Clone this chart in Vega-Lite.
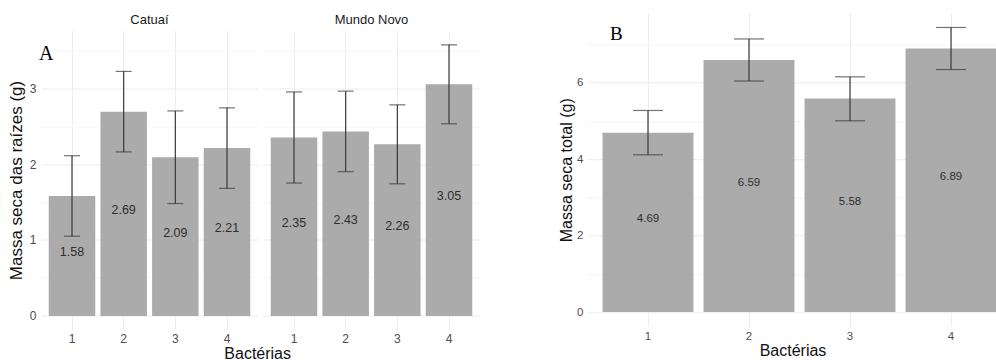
{
  "$schema": "https://vega.github.io/schema/vega-lite/v6.json",
  "padding": {"left": 7, "top": 13, "right": 0, "bottom": 0},
  "background": "white",
  "datasets": {
    "raizes": [
      {"cultivar": "Catuaí", "bacteria": "1", "media": 1.58, "lo": 1.05, "hi": 2.11},
      {"cultivar": "Catuaí", "bacteria": "2", "media": 2.69, "lo": 2.16, "hi": 3.22},
      {"cultivar": "Catuaí", "bacteria": "3", "media": 2.09, "lo": 1.48, "hi": 2.70},
      {"cultivar": "Catuaí", "bacteria": "4", "media": 2.21, "lo": 1.68, "hi": 2.74},
      {"cultivar": "Mundo Novo", "bacteria": "1", "media": 2.35, "lo": 1.75, "hi": 2.95},
      {"cultivar": "Mundo Novo", "bacteria": "2", "media": 2.43, "lo": 1.90, "hi": 2.96},
      {"cultivar": "Mundo Novo", "bacteria": "3", "media": 2.26, "lo": 1.74, "hi": 2.78},
      {"cultivar": "Mundo Novo", "bacteria": "4", "media": 3.05, "lo": 2.53, "hi": 3.57}
    ],
    "total": [
      {"bacteria": "1", "media": 4.69, "lo": 4.11, "hi": 5.27},
      {"bacteria": "2", "media": 6.59, "lo": 6.04, "hi": 7.14},
      {"bacteria": "3", "media": 5.58, "lo": 5.00, "hi": 6.15},
      {"bacteria": "4", "media": 6.89, "lo": 6.34, "hi": 7.44}
    ]
  },
  "config": {
    "view": {"stroke": null},
    "font": "Liberation Sans",
    "axis": {
      "ticks": false,
      "domain": false,
      "labelFont": "Liberation Sans",
      "labelColor": "#4d4d4d",
      "labelFontSize": 12,
      "titleFont": "Liberation Sans",
      "titleFontWeight": "normal",
      "titleColor": "#111111",
      "gridColor": "#ececec",
      "gridWidth": 1
    }
  },
  "spacing": 78,
  "center": true,
  "hconcat": [
    {
      "title": {"text": "Bactérias", "orient": "bottom", "anchor": "middle", "font": "Liberation Sans", "fontSize": 16, "fontWeight": "normal", "color": "#111111", "offset": 1, "dx": 14},
      "spacing": 5,
      "hconcat": [
        {
          "title": {"text": "Catuaí", "font": "Liberation Sans", "fontSize": 13, "fontWeight": "normal", "color": "#1a1a1a", "offset": 4},
          "width": 217,
          "height": 299,
          "data": {"name": "raizes"},
          "transform": [{"filter": "datum.cultivar === 'Catuaí'"}],
          "layer": [
            {
              "encoding": {
                "x": {"field": "bacteria", "type": "nominal", "scale": {"paddingInner": 0.1, "paddingOuter": 0.15}, "axis": {"title": null, "labelAngle": 0, "labelPadding": 4, "grid": true, "bandPosition": 0.5}}
              },
              "layer": [
                {"mark": {"type": "bar", "color": "#ababab"}, "encoding": {"y": {"field": "media", "type": "quantitative", "scale": {"domain": [-0.179, 3.759], "nice": false, "zero": false}, "axis": {"title": "Massa seca das raízes (g)", "titleFontSize": 17, "titlePadding": 4, "labelPadding": 5, "values": [0, 0.5, 1, 1.5, 2, 2.5, 3, 3.5], "labelExpr": "datum.value % 1 === 0 ? format(datum.value, 'd') : ''", "gridColor": {"condition": {"test": "datum.value % 1 === 0", "value": "#ececec"}, "value": "#f6f6f6"}}}}},
                {"mark": {"type": "rule", "color": "#383838", "strokeWidth": 1.2}, "encoding": {"y": {"field": "lo", "type": "quantitative"}, "y2": {"field": "hi"}}},
                {"mark": {"type": "tick", "color": "#383838", "size": 16, "thickness": 1.2}, "encoding": {"y": {"field": "lo", "type": "quantitative"}}},
                {"mark": {"type": "tick", "color": "#383838", "size": 16, "thickness": 1.2}, "encoding": {"y": {"field": "hi", "type": "quantitative"}}},
                {"data": {"values": [{"painel": "A"}]}, "mark": {"type": "text", "font": "Liberation Serif", "fontSize": 20, "align": "left", "baseline": "middle", "dx": -33, "color": "#000000"}, "encoding": {"x": {"datum": "1"}, "y": {"datum": 3.45}, "text": {"field": "painel"}}}
              ]
            },
            {
              "mark": {"type": "text", "fontSize": 12.5, "color": "#2e2e2e", "baseline": "middle", "dy": -4},
              "encoding": {
                "x": {"field": "bacteria", "type": "nominal"},
                "y": {"field": "media", "type": "quantitative", "scale": {"domain": [-0.358, 7.518], "nice": false, "zero": false}, "axis": null},
                "text": {"field": "media", "type": "quantitative", "format": ".2f"}
              }
            }
          ],
          "resolve": {"scale": {"y": "independent"}}
        },
        {
          "title": {"text": "Mundo Novo", "font": "Liberation Sans", "fontSize": 13, "fontWeight": "normal", "color": "#1a1a1a", "offset": 4},
          "width": 217,
          "height": 299,
          "data": {"name": "raizes"},
          "transform": [{"filter": "datum.cultivar === 'Mundo Novo'"}],
          "layer": [
            {
              "encoding": {
                "x": {"field": "bacteria", "type": "nominal", "scale": {"paddingInner": 0.1, "paddingOuter": 0.15}, "axis": {"title": null, "labelAngle": 0, "labelPadding": 4, "grid": true, "bandPosition": 0.5}}
              },
              "layer": [
                {"mark": {"type": "bar", "color": "#ababab"}, "encoding": {"y": {"field": "media", "type": "quantitative", "scale": {"domain": [-0.179, 3.759], "nice": false, "zero": false}, "axis": {"title": null, "labels": false, "minExtent": 0, "values": [0, 0.5, 1, 1.5, 2, 2.5, 3, 3.5], "gridColor": {"condition": {"test": "datum.value % 1 === 0", "value": "#ececec"}, "value": "#f6f6f6"}}}}},
                {"mark": {"type": "rule", "color": "#383838", "strokeWidth": 1.2}, "encoding": {"y": {"field": "lo", "type": "quantitative"}, "y2": {"field": "hi"}}},
                {"mark": {"type": "tick", "color": "#383838", "size": 16, "thickness": 1.2}, "encoding": {"y": {"field": "lo", "type": "quantitative"}}},
                {"mark": {"type": "tick", "color": "#383838", "size": 16, "thickness": 1.2}, "encoding": {"y": {"field": "hi", "type": "quantitative"}}}
              ]
            },
            {
              "mark": {"type": "text", "fontSize": 12.5, "color": "#2e2e2e", "baseline": "middle", "dy": -4},
              "encoding": {
                "x": {"field": "bacteria", "type": "nominal"},
                "y": {"field": "media", "type": "quantitative", "scale": {"domain": [-0.358, 7.518], "nice": false, "zero": false}, "axis": null},
                "text": {"field": "media", "type": "quantitative", "format": ".2f"}
              }
            }
          ],
          "resolve": {"scale": {"y": "independent"}}
        }
      ]
    },
    {
      "title": {"text": " ", "orient": "bottom", "fontSize": 14, "offset": 6},
      "width": 411,
      "height": 313,
      "data": {"name": "total"},
      "layer": [
        {
          "encoding": {
            "x": {"field": "bacteria", "type": "nominal", "scale": {"paddingInner": 0.1, "paddingOuter": 0.0846, "align": 0.91}, "axis": {"title": "Bactérias", "titleFontSize": 16, "titlePadding": 1, "labelAngle": 0, "labelPadding": 4, "labelFontSize": 11.5, "grid": true, "bandPosition": 0.5}}
          },
          "layer": [
            {"mark": {"type": "bar", "color": "#ababab"}, "encoding": {"y": {"field": "media", "type": "quantitative", "scale": {"domain": [-0.372, 7.812], "nice": false, "zero": false}, "axis": {"title": "Massa seca total (g)", "titleFontSize": 16, "titlePadding": 2, "labelPadding": 4, "labelFontSize": 11.5, "values": [0, 1, 2, 3, 4, 5, 6, 7], "labelExpr": "datum.value % 2 === 0 ? format(datum.value, 'd') : ''", "gridColor": {"condition": {"test": "datum.value % 2 === 0", "value": "#ececec"}, "value": "#f6f6f6"}}}}},
            {"mark": {"type": "rule", "color": "#383838", "strokeWidth": 1.2}, "encoding": {"y": {"field": "lo", "type": "quantitative"}, "y2": {"field": "hi"}}},
            {"mark": {"type": "tick", "color": "#383838", "size": 30, "thickness": 1.2}, "encoding": {"y": {"field": "lo", "type": "quantitative"}}},
            {"mark": {"type": "tick", "color": "#383838", "size": 30, "thickness": 1.2}, "encoding": {"y": {"field": "hi", "type": "quantitative"}}},
            {"data": {"values": [{"painel": "B"}]}, "mark": {"type": "text", "font": "Liberation Serif", "fontSize": 19, "align": "left", "baseline": "middle", "dx": -38, "color": "#000000"}, "encoding": {"x": {"datum": "1"}, "y": {"datum": 7.27}, "text": {"field": "painel"}}}
          ]
        },
        {
          "mark": {"type": "text", "fontSize": 11.5, "color": "#2e2e2e", "baseline": "middle", "dy": -3},
          "encoding": {
            "x": {"field": "bacteria", "type": "nominal"},
            "y": {"field": "media", "type": "quantitative", "scale": {"domain": [-0.744, 15.624], "nice": false, "zero": false}, "axis": null},
            "text": {"field": "media", "type": "quantitative", "format": ".2f"}
          }
        }
      ],
      "resolve": {"scale": {"y": "independent"}}
    }
  ]
}
